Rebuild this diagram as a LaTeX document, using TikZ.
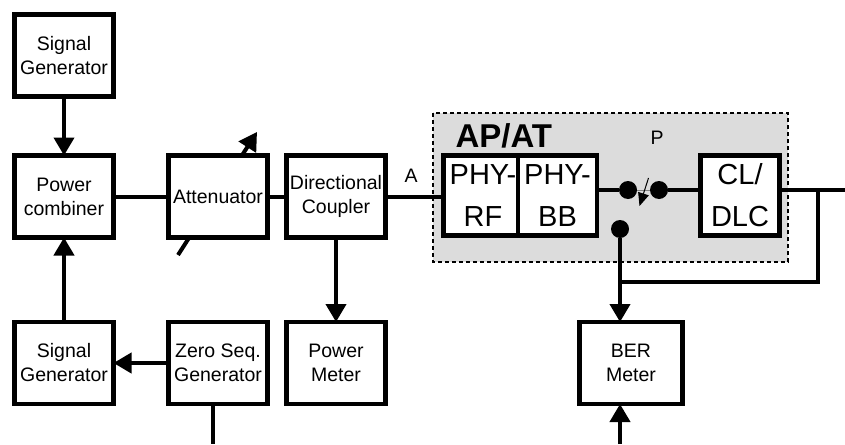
\documentclass[tikz,border=0pt]{standalone}
\usepackage{fontspec}
\setmainfont{Liberation Sans}
\usepackage{tikz}
\usetikzlibrary{arrows.meta, positioning, calc}
\definecolor{apGray}{RGB}{220, 220, 220}

\tikzset{
  blockbox/.style={draw, line width=4.5pt, fill=white, align=center, inner sep=0pt, outer sep=0pt,
    minimum width=99pt, minimum height=82pt, font=\fontsize{19.5}{24}\selectfont},
  bigbox/.style={blockbox, minimum width=79pt, minimum height=80pt, font=\fontsize{29}{42}\selectfont},
  wire/.style={line width=4pt},
  feed/.style={wire, -{Triangle[width=20pt, length=18pt]}},
  swdot/.style={circle, fill=black, inner sep=0pt, minimum size=18pt}
}

\begin{document}
\begin{tikzpicture}[x=1pt, y=-1pt]
      \useasboundingbox (0,0) rectangle (845,444);

      % access point / terminal area
      \draw[dashed, line width=1.5pt, fill=apGray, dash pattern=on 4pt off 3pt] (433,113) rectangle (788,262);
      \node[anchor=west, font=\fontsize{33}{36}\selectfont\bfseries] (aptitle) at (452,136) {AP/AT};
      \node[font=\fontsize{19.5}{24}\selectfont] (plabel) at (657,138) {P};

      % variable attenuator arrow (behind the box)
      \draw[feed] (178,255) -- (257,132);

      \node[blockbox] (sigtop) at (64,55.5) {Signal\\Generator};
      \node[blockbox] (combiner) at (64,196.5) {Power\\combiner};
      \node[blockbox] (atten) at (218,196.5) {Attenuator};
      \node[blockbox] (coupler) at (336,196.5) {Directional\\Coupler};
      \node[blockbox] (pmeter) at (336,363) {Power\\Meter};
      \node[blockbox] (zeroseq) at (218,363) {Zero Seq.\\Generator};
      \node[blockbox] (sigbot) at (64,363) {Signal\\Generator};
      \node[blockbox, minimum width=103pt] (ber) at (631,363) {BER\\Meter};

      \node[bigbox] (phyrf) at (483,195.5) {PHY-\\RF};
      \node[bigbox, right=-4.5pt of phyrf] (phybb) {PHY-\\BB};
      \node[bigbox] (cldlc) at (740,195.5) {CL/\\DLC};

      \node[font=\fontsize{19.5}{24}\selectfont] (alabel) at (411,176) {A};

      % switch
      \node[swdot] (sw1) at (628,190) {};
      \node[swdot] (sw2) at (659,190) {};
      \node[swdot] (sw3) at (620,229) {};
      \coordinate (swmid) at ($(sw1)!0.5!(sw2)$);
      \coordinate (junc) at (818,190);
      \coordinate (tap) at (620,282);
      \coordinate (out) at (845,190);
      \coordinate (berfeed) at (620,444);
      \coordinate (zsout) at (213,444);

      \draw[feed] (sigtop) -- (combiner);
      \draw[feed] (sigbot) -- (combiner);
      \draw[wire] (combiner) -- (atten);
      \draw[wire] (atten) -- (coupler);
      \draw[feed] (coupler) -- (pmeter);
      \draw[feed] (zeroseq) -- (sigbot);
      \draw[wire] (zsout |- zeroseq.south) -- (zsout);
      \draw[wire] (coupler.east) -- (phyrf.west |- coupler.east);

      \draw[wire] (sw1 -| phybb.east) -- (sw1);
      \draw[gray, line width=1pt] (sw1) -- (sw2);
      \draw[line width=1pt, -{Triangle[width=11pt, length=13pt]}] ($(swmid)+(5,-12)$) -- ($(swmid)+(-4,16)$);
      \draw[wire] (sw2) -- (cldlc.west |- sw2);
      \draw[wire] (cldlc.east |- sw2) -- (out);
      \draw[wire] (junc) |- (tap);
      \draw[wire] (sw3) -- (tap);
      \draw[feed] (tap) -- (tap |- ber.north);
      \draw[feed] (berfeed) -- (berfeed |- ber.south);
    \end{tikzpicture}
\end{document}
